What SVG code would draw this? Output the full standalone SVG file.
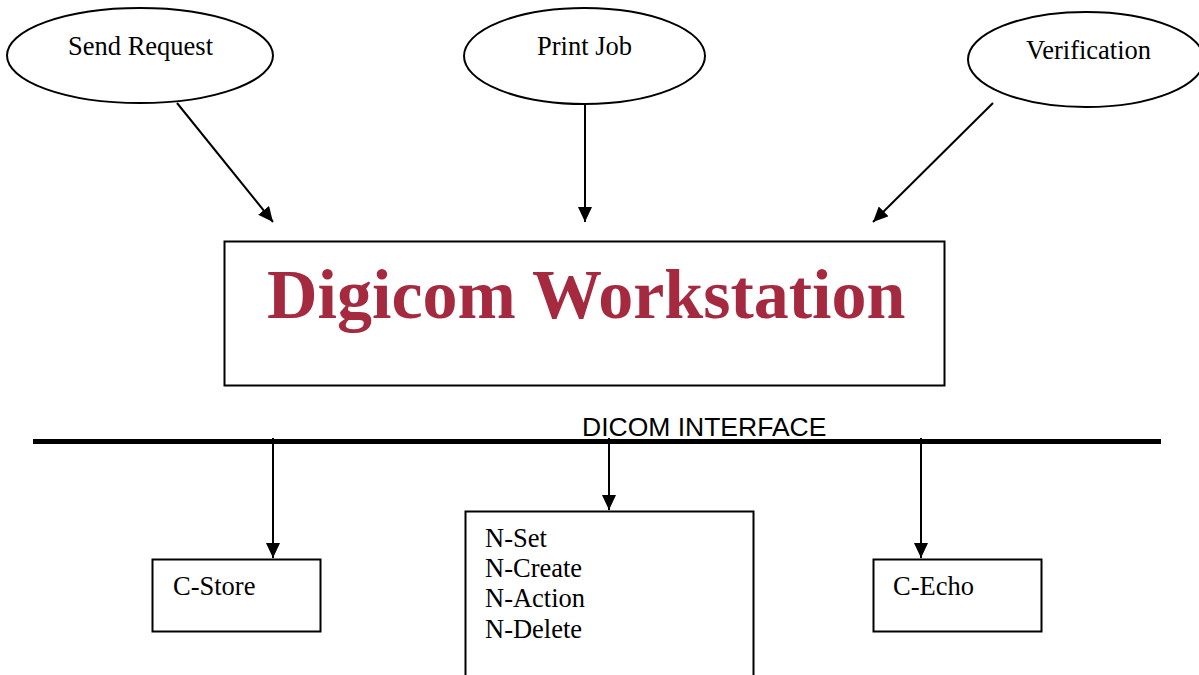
<svg xmlns="http://www.w3.org/2000/svg" width="1199" height="675" viewBox="0 0 1199 675">
<style>
.shape{fill:#fff;stroke:#000;stroke-width:2}
.t{font-family:"Liberation Serif","Times New Roman",serif;font-size:26.5px;fill:#000}
.big{font-family:"Liberation Serif","Times New Roman",serif;font-size:70px;font-weight:bold;fill:#A52A40}
.sans{font-family:"Liberation Sans",Arial,sans-serif;font-size:26.5px;fill:#000}
.conn{stroke:#000;stroke-width:2;fill:none;marker-end:url(#ah)}
</style>
<defs>
<marker id="ah" markerWidth="16" markerHeight="14" refX="15" refY="7" orient="auto" markerUnits="userSpaceOnUse">
<path d="M0,0 L15,7 L0,14 Z" fill="#000"/>
</marker>
</defs>
<rect width="1199" height="675" fill="#fff"/>
<g id="send-request">
<ellipse class="shape" cx="140" cy="55.5" rx="133" ry="47.5"/>
<text class="t" x="68" y="55">Send Request</text>
</g>
<g id="print-job">
<ellipse class="shape" cx="584.5" cy="56" rx="120.5" ry="48"/>
<text class="t" x="537" y="55">Print Job</text>
</g>
<g id="verification">
<ellipse class="shape" cx="1086" cy="59.5" rx="118" ry="47.5"/>
<text class="t" x="1026" y="59">Verification</text>
</g>
<g id="workstation">
<rect class="shape" x="224.5" y="241.5" width="720" height="144"/>
<text class="big" x="267" y="318">Digicom Workstation</text>
</g>
<g id="dicom-interface">
<line x1="33" y1="441.5" x2="1161" y2="441.5" stroke="#000" stroke-width="5"/>
<text class="sans" x="582" y="436">DICOM INTERFACE</text>
</g>
<g id="c-store">
<rect class="shape" x="152.5" y="559.5" width="168" height="72"/>
<text class="t" x="173" y="595">C-Store</text>
</g>
<g id="n-services">
<rect class="shape" x="465.5" y="511.5" width="288" height="180"/>
<text class="t" x="485" y="547">N-Set</text>
<text class="t" x="485" y="577">N-Create</text>
<text class="t" x="485" y="607">N-Action</text>
<text class="t" x="485" y="638">N-Delete</text>
</g>
<g id="c-echo">
<rect class="shape" x="873.5" y="559.5" width="168" height="72"/>
<text class="t" x="893" y="595">C-Echo</text>
</g>
<g id="connectors">
<line class="conn" x1="177" y1="103" x2="273" y2="222"/>
<line class="conn" x1="585" y1="104" x2="585" y2="222"/>
<line class="conn" x1="993" y1="103" x2="873" y2="222"/>
<line class="conn" x1="273" y1="438" x2="273" y2="558"/>
<line class="conn" x1="609" y1="438" x2="609" y2="510"/>
<line class="conn" x1="921" y1="438" x2="921" y2="558"/>
</g>
</svg>
